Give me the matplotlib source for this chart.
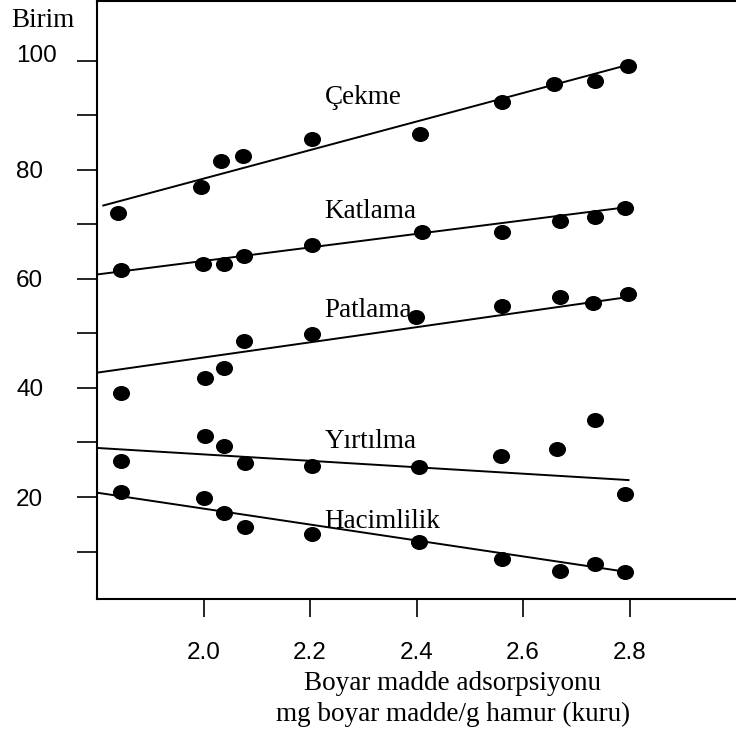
import matplotlib
matplotlib.use("Agg")
import matplotlib.pyplot as plt
import numpy as np
from matplotlib.path import Path
from matplotlib.transforms import Affine2D, ScaledTranslation

# ---- data ----
series_names = ["Çekme", "Katlama", "Patlama", "Yırtılma", "Hacimlilik"]

x_cekme = [1.840, 1.995, 2.032, 2.074, 2.204, 2.406, 2.560, 2.658, 2.736, 2.798]
y_cekme = [72.0, 76.9, 81.6, 82.5, 85.6, 86.5, 92.4, 95.7, 96.2, 99.1]

x_katlama = [1.845, 1.999, 2.038, 2.076, 2.204, 2.411, 2.560, 2.669, 2.736, 2.791]
y_katlama = [61.6, 62.8, 62.7, 64.2, 66.2, 68.6, 68.5, 70.6, 71.3, 72.9]

x_patlama = [1.846, 2.002, 2.038, 2.076, 2.204, 2.399, 2.560, 2.669, 2.731, 2.798]
y_patlama = [39.1, 41.9, 43.6, 48.6, 49.8, 53.0, 55.0, 56.6, 55.6, 57.3]

x_yirtilma = [1.846, 2.002, 2.038, 2.078, 2.204, 2.404, 2.559, 2.663, 2.736, 2.791]
y_yirtilma = [26.6, 31.2, 29.3, 26.2, 25.7, 25.5, 27.6, 28.8, 34.1, 20.5]

x_hacim = [1.846, 2.001, 2.038, 2.078, 2.204, 2.404, 2.560, 2.669, 2.736, 2.791]
y_hacim = [20.9, 19.9, 17.0, 14.5, 13.2, 11.8, 8.6, 6.4, 7.8, 6.3]

# fitted trend lines (start x, end x) and (start y, end y)
line_x = {"Çekme": [1.81, 2.80], "Katlama": [1.80, 2.80], "Patlama": [1.80, 2.80],
          "Yırtılma": [1.80, 2.80], "Hacimlilik": [1.80, 2.80]}
line_y = {"Çekme": [73.4, 99.3], "Katlama": [60.8, 73.2], "Patlama": [42.8, 56.7],
          "Yırtılma": [29.0, 23.1], "Hacimlilik": [20.8, 6.2]}

# label anchor (x, baseline y) for each series
label_x = 2.227
label_y = [92.0, 71.1, 53.0, 29.0, 14.4]

xtick_values = [2.0, 2.2, 2.4, 2.6, 2.8]
xtick_labels = ["2.0", "2.2", "2.4", "2.6", "2.8"]
ytick_values = [10, 20, 30, 40, 50, 60, 70, 80, 90, 100]
ytick_labels = ["", "20", "", "40", "", "60", "", "80", "", "100"]

xs = [x_cekme, x_katlama, x_patlama, x_yirtilma, x_hacim]
ys = [y_cekme, y_katlama, y_patlama, y_yirtilma, y_hacim]

# ---- figure ----
W, H = 736, 735
fig = plt.figure(figsize=(W / 100, H / 100), dpi=100)
ax = fig.add_axes([97 / W, 1 - 598.5 / H, 1 - 97 / W, (598.5 - 1.2) / H])
ax.set_xlim(1.80, 3.0)
ax.set_ylim(1.4, 110.9)

serif = ["Liberation Serif", "DejaVu Serif"]
sans = ["Liberation Sans", "DejaVu Sans"]

ell = Path.unit_circle().transformed(Affine2D().scale(1.0, 0.88))

for name, xv, yv in zip(series_names, xs, ys):
    ax.plot(line_x[name], line_y[name], color="black", lw=1.4, solid_capstyle="butt", zorder=2)
    ax.plot(xv, yv, linestyle="none", marker=ell, markersize=12.3,
            color="black", markeredgewidth=0, zorder=3)

for name, ly in zip(series_names, label_y):
    ax.text(label_x, ly, name, ha="left", va="baseline", fontsize=19.5, family=serif, zorder=4)

for s in ["top", "left", "bottom"]:
    ax.spines[s].set_linewidth(1.5)
ax.spines["right"].set_visible(False)

ax.set_xticks(xtick_values)
ax.set_xticklabels(xtick_labels, fontsize=17.5, family=sans)
ax.set_yticks(ytick_values)
ax.set_yticklabels(ytick_labels, fontsize=17.5, family=sans, ha="left")
ax.tick_params(axis="x", direction="out", length=13, width=1.2, pad=18.5)
ax.tick_params(axis="y", direction="out", length=14.4, width=1.2, pad=43.9)

# the "100" label sits a little above its tick in the reference
lab100 = ax.yaxis.get_major_ticks()[-1].label1
lab100.set_transform(lab100.get_transform() + ScaledTranslation(0, 7 / 100, fig.dpi_scale_trans))

fig.text(11.7 / W, 1 - 26.7 / H, "Birim", ha="left", va="baseline", fontsize=19.5, family=serif)
fig.text(453 / W, 1 - 690 / H, "Boyar madde adsorpsiyonu", ha="center", va="baseline",
         fontsize=19.5, family=serif)
fig.text(453 / W, 1 - 721 / H, "mg boyar madde/g hamur (kuru)", ha="center", va="baseline",
         fontsize=19.5, family=serif)

fig.savefig("out.png", dpi=100)
